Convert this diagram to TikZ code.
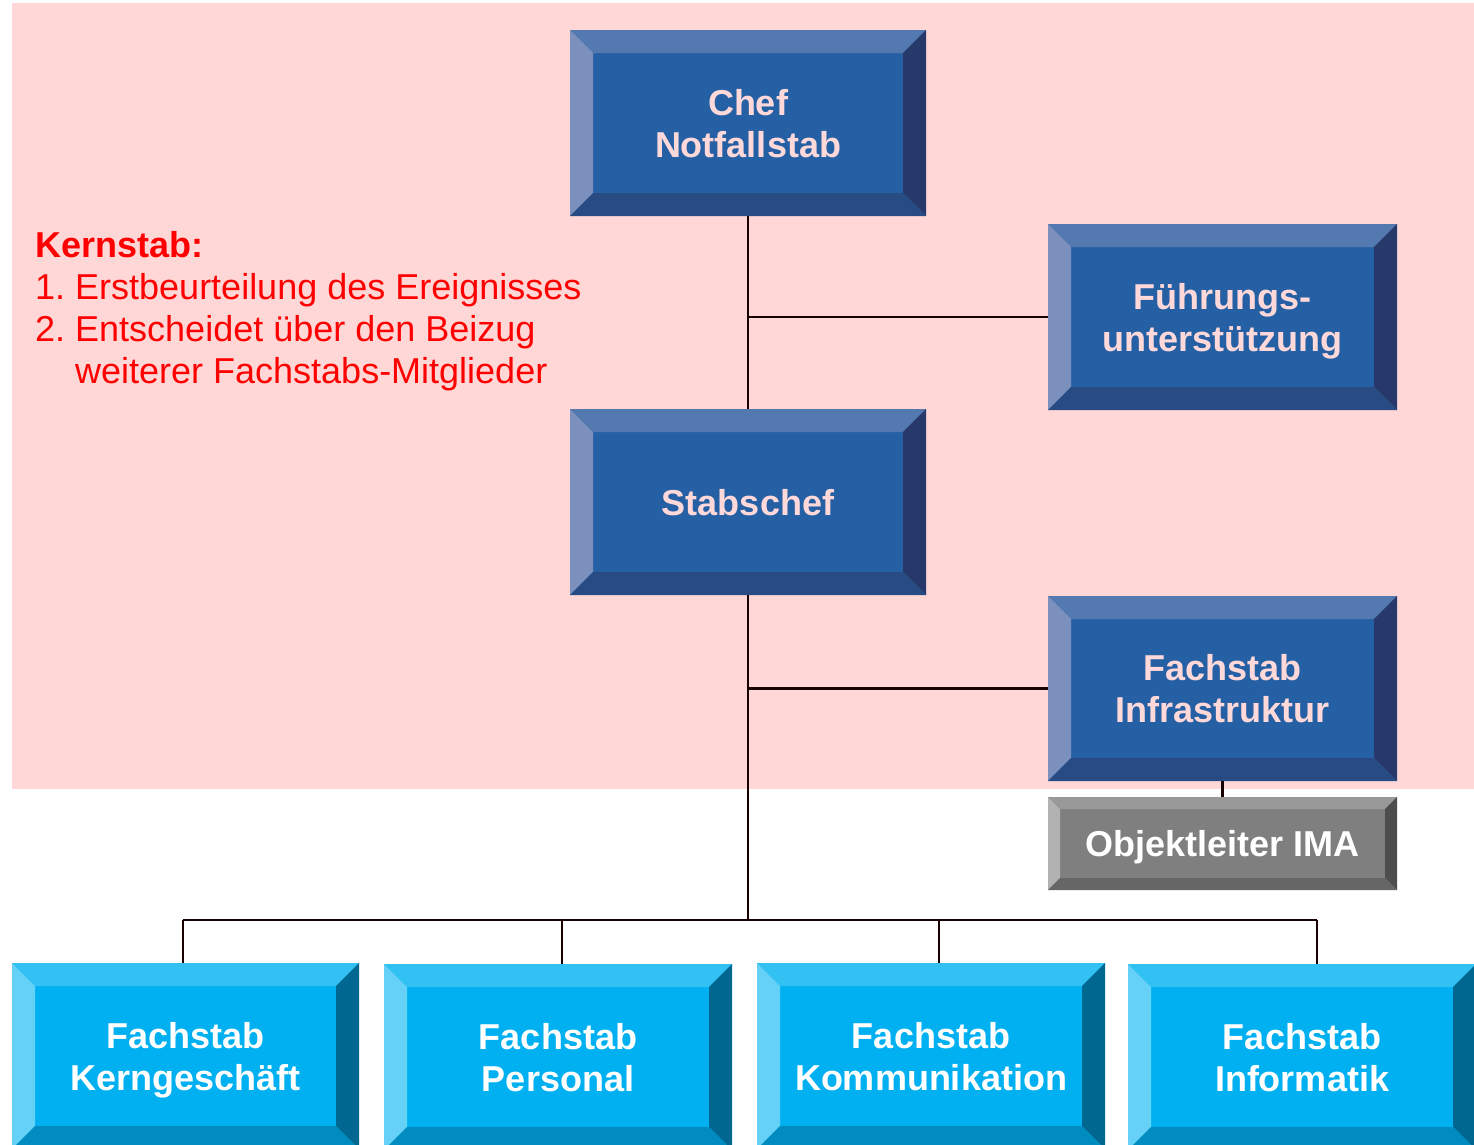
\documentclass[tikz,border=0pt]{standalone}
\usepackage{fontspec}
\setmainfont{Liberation Sans}
\usetikzlibrary{positioning}

\definecolor{pinkbg}{HTML}{FFD7D7}
\definecolor{pinktext}{HTML}{FFD9D9}
\definecolor{stabface}{HTML}{2660A4}
\definecolor{stabtop}{HTML}{5478B0}
\definecolor{stableft}{HTML}{7B90BC}
\definecolor{stabright}{HTML}{26396A}
\definecolor{stabbottom}{HTML}{274B82}
\definecolor{greyface}{HTML}{7F7F7F}
\definecolor{greytop}{HTML}{999999}
\definecolor{greyleft}{HTML}{B2B2B2}
\definecolor{greyright}{HTML}{4D4D4D}
\definecolor{greybottom}{HTML}{666666}
\definecolor{fachface}{HTML}{00B0F0}
\definecolor{fachtop}{HTML}{33C0F3}
\definecolor{fachleft}{HTML}{66D1F6}
\definecolor{fachright}{HTML}{006890}
\definecolor{fachbottom}{HTML}{008CC0}
\definecolor{kernred}{HTML}{FF0000}

\tikzset{
  bevel/.style n args={5}{path picture={
      \coordinate (pnw) at (path picture bounding box.north west);
      \coordinate (pse) at (path picture bounding box.south east);
      \coordinate (inw) at ([shift={(#5pt,-#5pt)}]pnw);
      \coordinate (ise) at ([shift={(-#5pt,#5pt)}]pse);
      \fill[#1] (pnw) -- (pse |- pnw) -- (ise |- inw) -- (inw) -- cycle;
      \fill[#2] (pnw) -- (inw) -- (inw |- ise) -- (pnw |- pse) -- cycle;
      \fill[#3] (pse |- pnw) -- (pse) -- (ise) -- (ise |- inw) -- cycle;
      \fill[#4] (pnw |- pse) -- (inw |- ise) -- (ise) -- (pse) -- cycle;
    }},
  box/.style={inner sep=0pt, align=center, text depth=0pt,
    font=\bfseries\fontsize{36}{42}\selectfont},
  stabbox/.style={box, fill=stabface, text=pinktext,
    minimum width=356pt, minimum height=186pt,
    bevel={stabtop}{stableft}{stabright}{stabbottom}{23}},
  greybox/.style={box, fill=greyface, text=white,
    minimum width=349pt, minimum height=93pt,
    bevel={greytop}{greyleft}{greyright}{greybottom}{12}},
  fachbox/.style={box, fill=fachface, text=white,
    minimum width=348pt, minimum height=186pt,
    bevel={fachtop}{fachleft}{fachright}{fachbottom}{23}},
  link/.style={line width=2.6pt, draw=black!90!red},
}

\begin{document}
\begin{tikzpicture}[x=1pt, y=-1pt]
  \useasboundingbox (0,0) rectangle (1474,1144);
  \fill[white] (0,0) rectangle (1474,1144);
  \fill[pinkbg] (12,3) rectangle (1474,789);

  % Kernstab
  \node[stabbox] (chef) at (748,123) {Chef\\Notfallstab};
  \node[stabbox, minimum width=349pt] (fuehrung) at (1222.5,317) {Führungs-\\unterstützung};
  \node[stabbox] (stabschef) at (748,502) {Stabschef};
  \node[stabbox, minimum width=349pt, minimum height=185pt] (infra) at (1222.5,688.5) {Fachstab\\Infrastruktur};
  \node[greybox] (objekt) at (1222.5,843.5) {Objektleiter IMA};

  \node[inner sep=0pt, anchor=north west, align=left, text=kernred,
    font=\fontsize{36}{42}\selectfont] (kernstab) at (35,231)
    {\textbf{Kernstab:}\\\makebox[40pt][l]{1.}Erstbeurteilung des Ereignisses\\
     \makebox[40pt][l]{2.}Entscheidet über den Beizug\\\hspace*{40pt}weiterer Fachstabs-Mitglieder};

  % Fachstaebe
  \node[fachbox, minimum width=347pt] (kern) at (185.5,1056) {Fachstab\\Kerngeschäft};
  \node[fachbox] (personal) at (558,1057) {Fachstab\\Personal};
  \node[fachbox] (kommunikation) at (931,1056) {Fachstab\\Kommunikation};
  \node[fachbox] (informatik) at (1302,1057) {Fachstab\\Informatik};

  \coordinate (hub) at (748,920);
  \coordinate (b1) at (183,920);
  \coordinate (b2) at (562,920);
  \coordinate (b3) at (939,920);
  \coordinate (b4) at (1317,920);

  \draw[link] (chef) -- (stabschef);
  \draw[link] (fuehrung.west) -- (fuehrung.west -| chef);
  \draw[link] (stabschef) -- (hub);
  \draw[link] (infra.west) -- (infra.west -| stabschef);
  \draw[link] (infra) -- (objekt);
  \draw[link] (b1) -- (b4);
  \draw[link] (b1) -- (b1 |- kern.north);
  \draw[link] (b2) -- (b2 |- personal.north);
  \draw[link] (b3) -- (b3 |- kommunikation.north);
  \draw[link] (b4) -- (b4 |- informatik.north);
\end{tikzpicture}
\end{document}
